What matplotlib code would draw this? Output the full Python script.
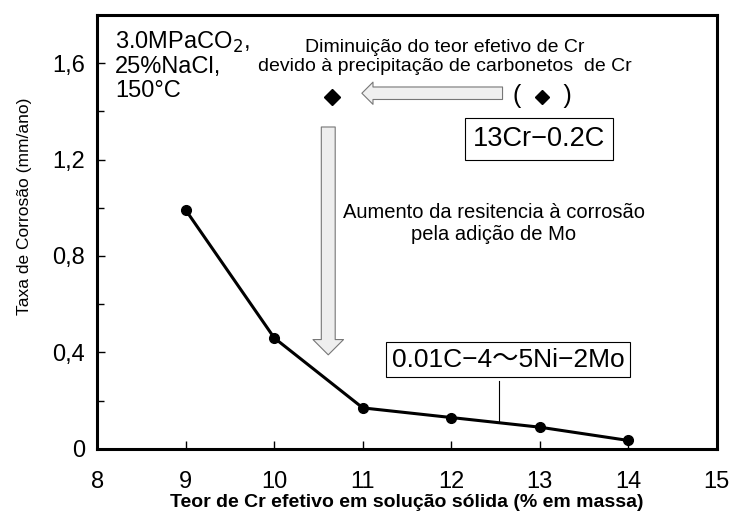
import matplotlib.pyplot as plt
from matplotlib.ticker import MultipleLocator

plt.rcParams["font.family"] = ["Liberation Sans", "DejaVu Sans"]

# Corrosion rate vs. effective Cr content (0.01C-4~5Ni-2Mo steels)
cr_content = [9, 10, 11, 12, 13, 14]
corrosion_rate = [0.99, 0.46, 0.17, 0.13, 0.09, 0.035]

# 13Cr-0.2C reference point, shifted to its effective Cr content
cr_13 = [10.65]
rate_13 = [1.46]
cr_13_nominal = [13.03]

x_ticks = [8, 9, 10, 11, 12, 13, 14, 15]
y_ticks = [0, 0.4, 0.8, 1.2, 1.6]
y_tick_labels = ["0", "0,4", "0,8", "1,2", "1,6"]

fig = plt.figure(figsize=(7.32, 5.13), dpi=100)
ax = fig.add_axes([0.133, 0.125, 0.846, 0.846])

ax.plot(cr_content, corrosion_rate, "-o", color="black", lw=2.2, ms=7)
ax.plot(cr_13, rate_13, "D", color="black", ms=8)
ax.plot(cr_13_nominal, rate_13, "D", color="black", ms=7)

ax.set_xlim(8, 15)
ax.set_ylim(0, 1.8)
ax.set_xticks(x_ticks)
ax.set_yticks(y_ticks)
ax.set_yticklabels(y_tick_labels)
ax.yaxis.set_minor_locator(MultipleLocator(0.2))
ax.tick_params(axis="both", which="both", direction="in", labelsize=17)
ax.tick_params(axis="both", which="major", length=6, width=1)
ax.tick_params(axis="y", which="minor", length=5, width=1)
ax.tick_params(axis="x", pad=16)
ax.tick_params(axis="y", pad=9)
for sp in ax.spines.values():
    sp.set_linewidth(2.2)

ax.set_xlabel("Teor de Cr efetivo em solução sólida (% em massa)",
              fontsize=14, fontweight="bold", labelpad=1)
ax.set_ylabel("Taxa de Corrosão (mm/ano)", fontsize=12.5)
ax.yaxis.set_label_coords(-0.105, 0.56)

# test conditions
ax.text(8.2, 1.74, "3.0MPaCO$_2$,\n25%NaCl,\n150°C", fontsize=17,
        va="top", ha="left", linespacing=1.1)

ax.text(11.93, 1.625, "Diminuição do teor efetivo de Cr\n"
        "devido à precipitação de carbonetos  de Cr",
        fontsize=14, ha="center", va="center", linespacing=1.15)

ax.text(cr_13_nominal[0], rate_13[0] + 0.005, "(      )", fontsize=18,
        ha="center", va="center")
ax.text(12.99, 1.285, "13Cr−0.2C", fontsize=19.5, ha="center", va="center",
        bbox=dict(boxstyle="square,pad=0.3", fc="white", ec="black", lw=0.8))

ax.text(12.48, 0.933, "Aumento da resitencia à corrosão\npela adição de Mo",
        fontsize=14.5, ha="center", va="center", linespacing=1.2)

ax.text(12.64, 0.37, "0.01C−4～5Ni−2Mo", fontsize=19, ha="center",
        va="center", family=["Liberation Sans", "Noto Sans CJK JP"],
        bbox=dict(boxstyle="square,pad=0.22", fc="white", ec="black", lw=0.8))
ax.plot([12.54, 12.54], [0.28, 0.117], color="black", lw=0.8)

# hollow arrows
ax.annotate("", xy=(10.99, 1.475), xytext=(12.58, 1.475),
            arrowprops=dict(arrowstyle="simple,head_width=16,head_length=8,tail_width=9",
                            mutation_scale=1, fc="#f0f0f0", ec="#777777", lw=0.8,
                            shrinkA=0, shrinkB=0))
ax.annotate("", xy=(10.61, 0.39), xytext=(10.61, 1.335),
            arrowprops=dict(arrowstyle="simple,head_width=22,head_length=11,tail_width=10",
                            mutation_scale=1, fc="#eeeeee", ec="#777777", lw=0.8,
                            shrinkA=0, shrinkB=0))

fig.savefig("out.png", dpi=100)
